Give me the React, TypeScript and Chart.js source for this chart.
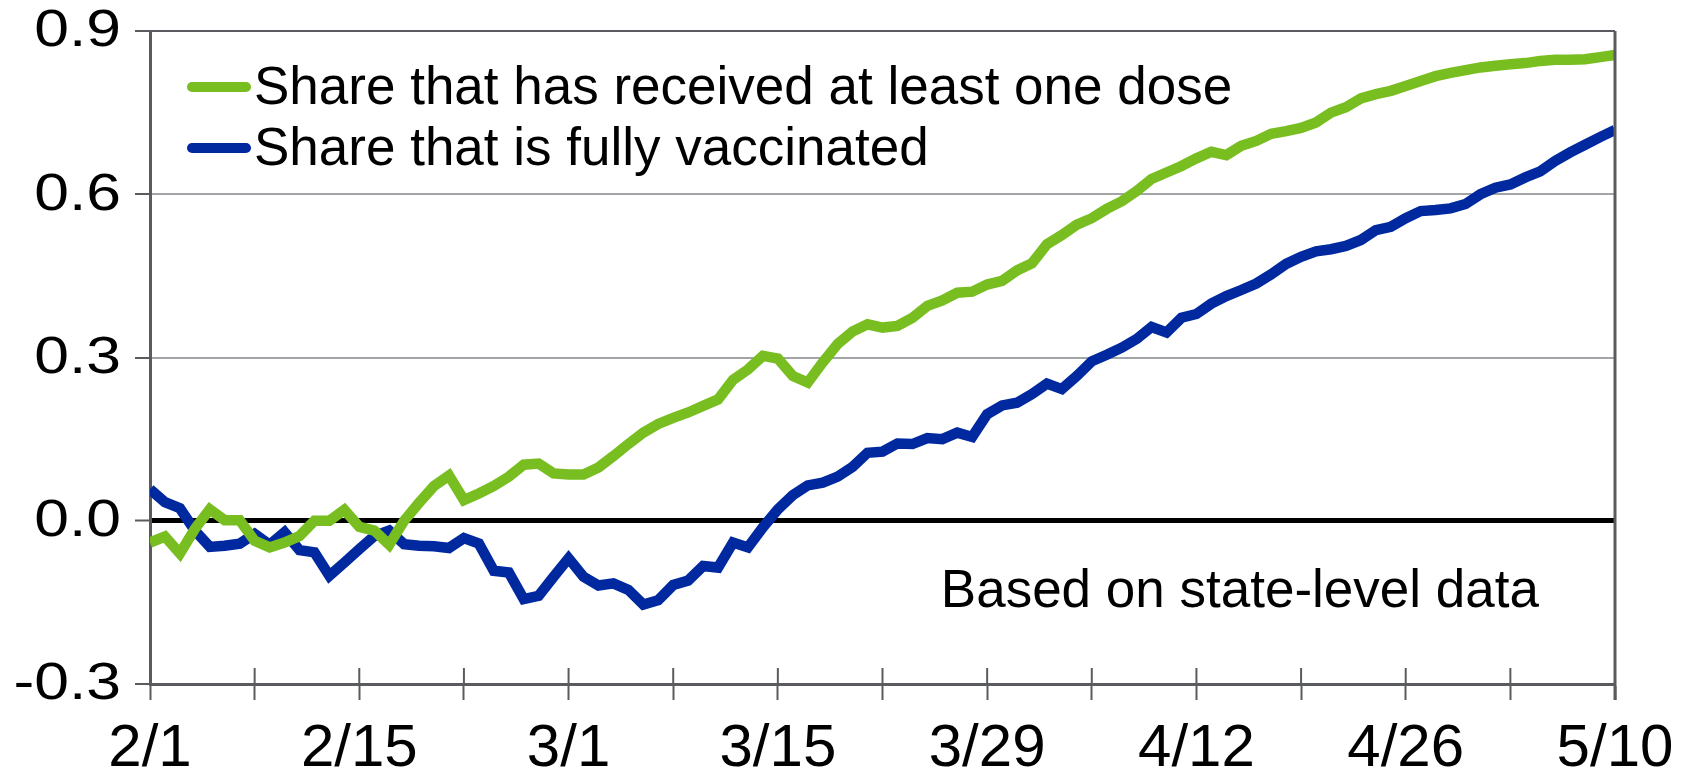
import React, { useEffect, useRef } from "react";
import { Chart, registerables } from "chart.js";

Chart.register(...registerables);

// Day index counted from 2/1 (daily observations through 5/10)
const dayIndex: number[] = Array.from({ length: 99 }, (_, i) => i);

// X tick labels, one every 14 days
const tickLabels: string[] = ["2/1", "2/15", "3/1", "3/15", "3/29", "4/12", "4/26", "5/10"];

// Y tick values
const yTicks: number[] = [-0.3, 0.0, 0.3, 0.6, 0.9];

const seriesNames: string[] = [
  "Share that has received at least one dose",
  "Share that is fully vaccinated",
];

const atLeastOneDose: number[] = [
  -0.040, -0.029, -0.060, -0.015, 0.021, 0.001, 0.001, -0.037, -0.049, -0.040,
  -0.028, 0.000, 0.000, 0.020, -0.011, -0.018, -0.044, 0.000, 0.033, 0.064,
  0.083, 0.038, 0.050, 0.064, 0.081, 0.103, 0.105, 0.087, 0.085, 0.085,
  0.098, 0.119, 0.141, 0.162, 0.178, 0.189, 0.199, 0.211, 0.223, 0.259,
  0.278, 0.303, 0.298, 0.266, 0.254, 0.291, 0.325, 0.348, 0.361, 0.355,
  0.358, 0.373, 0.395, 0.405, 0.419, 0.421, 0.434, 0.441, 0.460, 0.473,
  0.508, 0.525, 0.544, 0.556, 0.573, 0.587, 0.606, 0.628, 0.640, 0.652,
  0.666, 0.678, 0.672, 0.689, 0.698, 0.711, 0.716, 0.722, 0.732, 0.750,
  0.760, 0.776, 0.784, 0.790, 0.799, 0.808, 0.817, 0.823, 0.828, 0.833,
  0.836, 0.839, 0.841, 0.845, 0.847, 0.847, 0.848, 0.852, 0.856,
];

const fullyVaccinated: number[] = [
  0.058, 0.034, 0.023, -0.018, -0.048, -0.046, -0.042, -0.024, -0.044, -0.021,
  -0.054, -0.058, -0.101, -0.077, -0.052, -0.028, -0.018, -0.043, -0.046, -0.047,
  -0.050, -0.032, -0.042, -0.092, -0.095, -0.144, -0.138, -0.103, -0.069, -0.103,
  -0.119, -0.115, -0.127, -0.154, -0.146, -0.118, -0.110, -0.083, -0.086, -0.040,
  -0.049, -0.012, 0.021, 0.047, 0.065, 0.070, 0.081, 0.099, 0.125, 0.127,
  0.142, 0.141, 0.152, 0.150, 0.162, 0.154, 0.196, 0.212, 0.217, 0.233,
  0.252, 0.242, 0.266, 0.293, 0.305, 0.318, 0.334, 0.356, 0.346, 0.373,
  0.380, 0.399, 0.413, 0.424, 0.436, 0.453, 0.472, 0.485, 0.495, 0.499,
  0.505, 0.516, 0.534, 0.540, 0.556, 0.569, 0.571, 0.574, 0.582, 0.600,
  0.612, 0.618, 0.631, 0.642, 0.661, 0.677, 0.691, 0.705, 0.718,
];

const noteText = "Based on state-level data";

const GREEN = "#78BE21";
const BLUE = "#0029A0";
const AXIS = "#595B5F";
const GRID = "#A2A4A8";
const FONT = "'Liberation Sans', Arial, sans-serif";
const NARROW = "'Liberation Sans Narrow', 'Arial Narrow', sans-serif";

const overlayPlugin = {
  id: "overlay",
  afterDatasetsDraw(chart: any) {
    const { ctx, chartArea, scales } = chart;
    const { left, right, top, bottom } = chartArea;
    ctx.save();
    // x tick marks crossing the axis (upper part)
    ctx.strokeStyle = AXIS;
    ctx.lineWidth = 2;
    for (let d = 0; d <= 98; d += 7) {
      const x = scales.x.getPixelForValue(d);
      ctx.beginPath();
      ctx.moveTo(x, bottom - 16);
      ctx.lineTo(x, bottom);
      ctx.stroke();
    }
    // right and top border
    ctx.lineWidth = 3;
    ctx.beginPath();
    ctx.moveTo(right, top);
    ctx.lineTo(right, bottom + 16);
    ctx.stroke();
    ctx.lineWidth = 2;
    ctx.beginPath();
    ctx.moveTo(left, top);
    ctx.lineTo(right, top);
    ctx.stroke();

    // y tick labels (wide)
    ctx.fillStyle = "#000";
    ctx.font = `52px ${FONT}`;
    ctx.textBaseline = "middle";
    ctx.textAlign = "right";
    const sx = 1.2;
    yTicks.forEach((v) => {
      const y = scales.y.getPixelForValue(v);
      ctx.save();
      ctx.translate(left - 29, y + 1);
      ctx.scale(sx, 1);
      ctx.fillText(v.toFixed(1), 0, 0);
      ctx.restore();
    });

    // legend
    ctx.font = `53px ${FONT}`;
    ctx.textBaseline = "middle";
    ctx.textAlign = "left";
    const colors = [GREEN, BLUE];
    const rows = [top + 56, top + 117];
    seriesNames.forEach((name, i) => {
      ctx.strokeStyle = colors[i];
      ctx.lineWidth = 10;
      ctx.lineCap = "round";
      ctx.beginPath();
      ctx.moveTo(left + 42, rows[i]);
      ctx.lineTo(left + 96, rows[i]);
      ctx.stroke();
      ctx.fillStyle = "#000";
      ctx.fillText(name, left + 104, rows[i] + 2);
    });

    // note
    ctx.fillText(noteText, scales.x.getPixelForValue(52.9), scales.y.getPixelForValue(-0.132));
    ctx.restore();
  },
};

export default function App() {
  const ref = useRef<HTMLCanvasElement | null>(null);

  useEffect(() => {
    if (!ref.current) return;
    const chart = new Chart(ref.current, {
      type: "line",
      data: {
        datasets: [
          {
            label: seriesNames[0],
            data: dayIndex.map((d, i) => ({ x: d, y: atLeastOneDose[i] })),
            borderColor: GREEN,
            borderWidth: 10.5,
            pointRadius: 0,
            tension: 0,
            fill: false,
          },
          {
            label: seriesNames[1],
            data: dayIndex.map((d, i) => ({ x: d, y: fullyVaccinated[i] })),
            borderColor: BLUE,
            borderWidth: 10.5,
            pointRadius: 0,
            tension: 0,
            fill: false,
          },
        ],
      },
      options: {
        animation: false,
        responsive: false,
        maintainAspectRatio: false,
        layout: { padding: { top: 31, right: 66, left: 0, bottom: 0 } },
        plugins: {
          legend: { display: false },
          tooltip: { enabled: false },
        },
        scales: {
          x: {
            type: "linear",
            min: 0,
            max: 98,
            afterFit: (s: any) => {
              s.height = 85;
              s.paddingLeft = 0;
              s.paddingRight = 0;
            },
            afterBuildTicks: (s: any) => {
              const t = [];
              for (let d = 0; d <= 98; d += 7) t.push({ value: d });
              s.ticks = t;
            },
            ticks: {
              autoSkip: false,
              maxRotation: 0,
              padding: 13,
              color: "#000",
              font: { family: NARROW, size: 60 },
              callback: (v: any) => (Number(v) % 14 === 0 ? tickLabels[Number(v) / 14] : ""),
            },
            grid: {
              drawOnChartArea: false,
              drawTicks: true,
              tickLength: 16,
              tickColor: AXIS,
              tickWidth: 2,
            },
            border: { color: AXIS, width: 3 },
          },
          y: {
            min: -0.3,
            max: 0.9,
            afterFit: (s: any) => {
              s.width = 150;
              s.paddingTop = 0;
              s.paddingBottom = 0;
            },
            ticks: {
              stepSize: 0.3,
              display: false,
            },
            grid: {
              color: (c: any) => {
                const v = c.tick ? c.tick.value : 1;
                if (Math.abs(v) < 1e-9) return "#000";
                return GRID;
              },
              lineWidth: (c: any) => {
                const v = c.tick ? c.tick.value : 1;
                return Math.abs(v) < 1e-9 ? 5 : 2;
              },
              tickLength: 15,
              tickColor: AXIS,
              tickWidth: 2,
            },
            border: { color: AXIS, width: 3 },
          },
        },
      },
      plugins: [overlayPlugin],
    });
    return () => chart.destroy();
  }, []);

  return (
    <div style={{ position: "fixed", left: 0, top: 0, width: 1681, height: 769, background: "#fff" }}>
      <canvas ref={ref} width={1681} height={769} style={{ width: 1681, height: 769 }} />
    </div>
  );
}
